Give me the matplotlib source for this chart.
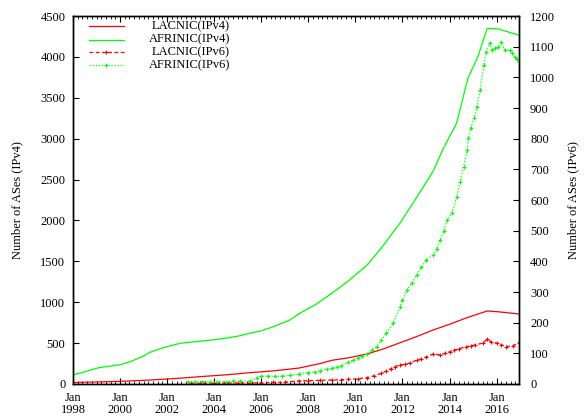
import matplotlib
matplotlib.use("Agg")
import matplotlib.pyplot as plt
from matplotlib.ticker import MultipleLocator

plt.rcParams['font.family'] = ['Liberation Serif', 'DejaVu Serif']
plt.rcParams['font.size'] = 9

# ---------------- data ----------------
lacnic_v4_x = [1998.0, 1999.0, 2000.0, 2001.3, 2002.5, 2003.4, 2004.5, 2005.5, 2006.5,
               2007.6, 2008.5, 2009.0, 2009.7, 2010.5, 2011.2, 2011.9, 2012.6, 2013.3,
               2014.0, 2014.7, 2015.2, 2015.6, 2016.0, 2016.5, 2016.95]
lacnic_v4_y = [18, 25, 32, 49, 70, 90, 112, 138, 160,
               195, 250, 290, 320, 367, 430, 505, 580, 660,
               730, 807, 855, 893, 885, 870, 856]

afrinic_v4_x = [1998.0, 1998.5, 1999.1, 1999.6, 2000.0, 2000.5, 2000.9, 2001.3, 2001.8,
                2002.3, 2002.6, 2003.3, 2004.1, 2004.6, 2005.1, 2005.5, 2006.0, 2006.5,
                2007.2, 2007.6, 2008.3, 2009.0, 2009.7, 2010.5, 2011.2, 2011.9, 2012.6,
                2013.3, 2013.7, 2014.3, 2014.78, 2015.2, 2015.6, 2016.1, 2016.55, 2016.95]
afrinic_v4_y = [110, 150, 200, 220, 235, 280, 330, 390, 440,
                480, 500, 520, 545, 565, 590, 620, 650, 700,
                780, 860, 970, 1110, 1260, 1455, 1700, 1970, 2280,
                2600, 2860, 3190, 3740, 4000, 4350, 4340, 4300, 4265]

afrinic_v6_x = [2002.9, 2003.2, 2003.5, 2003.8, 2004.1, 2004.5, 2004.8, 2005.1, 2005.5,
                2005.8, 2006.0, 2006.3, 2006.6, 2006.9, 2007.2, 2007.6, 2008.0, 2008.3,
                2008.5, 2008.8, 2009.0, 2009.2, 2009.4, 2009.7, 2009.9, 2010.1, 2010.3,
                2010.5, 2010.7, 2010.9, 2011.1, 2011.3, 2011.6, 2011.9, 2012.0, 2012.2,
                2012.4, 2012.6, 2012.8, 2013.0, 2013.3, 2013.45, 2013.6, 2013.75, 2013.9,
                2014.1, 2014.3, 2014.45, 2014.6, 2014.75, 2014.8, 2014.9, 2015.05, 2015.15,
                2015.3, 2015.45, 2015.55, 2015.7, 2015.8, 2015.95, 2016.05, 2016.2, 2016.35,
                2016.55, 2016.65, 2016.76, 2016.85, 2016.95]
afrinic_v6_y = [7, 8, 8, 8, 8, 8, 9, 9, 9,
                20, 26, 26, 25, 26, 28, 33, 37, 40,
                44, 48, 51, 55, 60, 71, 78, 85, 92,
                98, 110, 122, 143, 165, 198, 252, 275, 306,
                330, 355, 380, 404, 421, 440, 469, 500, 535,
                556, 611, 660, 709, 763, 802, 835, 867, 904,
                959, 1040, 1083, 1112, 1089, 1095, 1099, 1115, 1089,
                1089, 1080, 1067, 1060, 1050]

lacnic_v6_x = [2003.0, 2003.5, 2004.0, 2004.5, 2005.0, 2005.5, 2006.0, 2006.5, 2007.0,
               2007.6, 2008.0, 2008.5, 2009.0, 2009.4, 2009.7, 2010.1, 2010.5, 2010.8,
               2011.1, 2011.3, 2011.5, 2011.7, 2011.9, 2012.1, 2012.3, 2012.6, 2012.8,
               2013.0, 2013.3, 2013.6, 2013.8, 2014.0, 2014.2, 2014.4, 2014.7, 2014.9,
               2015.1, 2015.4, 2015.6, 2015.75, 2016.0, 2016.2, 2016.4, 2016.7, 2016.95]
lacnic_v6_y = [2, 2, 2, 3, 3, 3, 4, 5, 6,
               10, 11, 12, 13, 14, 15, 17, 21, 27,
               35, 42, 50, 57, 62, 64, 68, 78, 82,
               88, 98, 95, 100, 105, 110, 115, 122, 124,
               128, 133, 146, 138, 133, 128, 122, 125, 135]

year_ticks = list(range(1998, 2017, 2))
year_labels = ['Jan\n%d' % y for y in year_ticks]
left_ticks = list(range(0, 4501, 500))
right_ticks = list(range(0, 1201, 100))

legend_labels = ['LACNIC(IPv4)', 'AFRINIC(IPv4)', 'LACNIC(IPv6)', 'AFRINIC(IPv6)']

RED = '#ff0000'
GREEN = '#00ff00'

# ---------------- figure ----------------
fig = plt.figure(figsize=(5.85, 4.17), dpi=100)
ax = fig.add_axes([73/585, 33/417, 446/585, 368/417])
ax2 = ax.twinx()

ax.plot(lacnic_v4_x, lacnic_v4_y, color=RED, lw=0.9)
ax.plot(afrinic_v4_x, afrinic_v4_y, color=GREEN, lw=0.9)
ax2.plot(lacnic_v6_x, lacnic_v6_y, color=RED, lw=0.9, ls=(0, (3, 2)),
         marker='+', ms=3.2, mew=0.8)
ax2.plot(afrinic_v6_x, afrinic_v6_y, color=GREEN, lw=0.9, ls=(0, (1, 1.5)),
         marker='+', ms=3.2, mew=0.8)

ax.set_xlim(1998, 2016.95)
ax.set_ylim(0, 4500)
ax2.set_ylim(0, 1200)

ax.set_xticks(year_ticks)
ax.set_xticklabels(year_labels, linespacing=1.0)
ax.xaxis.set_minor_locator(MultipleLocator(0.2))
ax.set_yticks(left_ticks)
ax2.set_yticks(right_ticks)

ax.tick_params(axis='x', which='both', direction='in', top=True, bottom=True)
ax.tick_params(axis='x', which='major', length=4.5, width=0.8, pad=6, labelsize=9)
ax.tick_params(axis='x', which='minor', length=2.2, width=0.6)
ax.tick_params(axis='y', which='major', direction='in', left=True, right=False,
               length=4.5, width=0.8, pad=5.5, labelsize=9)
ax2.tick_params(axis='y', which='major', direction='in', right=True, left=False,
                length=4.5, width=0.8, pad=8, labelsize=9)

for sp in list(ax.spines.values()) + list(ax2.spines.values()):
    sp.set_linewidth(1.0)

ax.set_ylabel('Number of ASes (IPv4)', fontsize=9, labelpad=12)
ax2.set_ylabel('Number of ASes (IPv6)', fontsize=9, labelpad=9)

# gnuplot-style key: sample on the left, right-aligned text
styles = [dict(color=RED, lw=0.9, ls='-'),
          dict(color=GREEN, lw=0.9, ls='-'),
          dict(color=RED, lw=0.9, ls=(0, (3, 2))),
          dict(color=GREEN, lw=0.9, ls=(0, (1, 1.5)))]
rows = [0.972, 0.936, 0.901, 0.866]
for lab, st, yy, i in zip(legend_labels, styles, rows, range(4)):
    ax.plot([0.036, 0.114], [yy, yy], transform=ax.transAxes, clip_on=False, **st)
    if i >= 2:
        ax.plot([0.075], [yy], transform=ax.transAxes, marker='+', ms=3.2,
                mew=0.8, color=st['color'], clip_on=False)
    ax.text(0.352, yy, lab, transform=ax.transAxes, ha='right', va='center',
            fontsize=9)

fig.savefig('out.png', dpi=100)
